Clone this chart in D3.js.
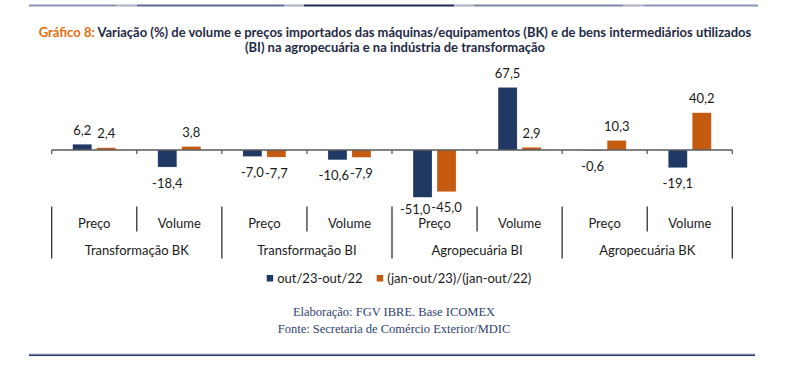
<!DOCTYPE html>
<html><head><meta charset="utf-8">
<script src="https://cdn.jsdelivr.net/npm/d3@7"></script>
<style>
html,body{margin:0;padding:0;background:#fff;}
svg{display:block;}
</style></head>
<body>
<svg id="chart" width="790" height="367"></svg>
<script>
const subCategories = ["Preço","Volume","Preço","Volume","Preço","Volume","Preço","Volume"];
const groups = ["Transformação BK","Transformação BI","Agropecuária BI","Agropecuária BK"];
const seriesNames = ["out/23-out/22","(jan-out/23)/(jan-out/22)"];
const seriesMonth = [6.2,-18.4,-7.0,-10.6,-51.0,67.5,-0.6,-19.1];
const seriesYTD = [2.4,3.8,-7.7,-7.9,-45.0,2.9,10.3,40.2];
const titleLead = "Gráfico 8:";
const titleLine1 = " Variação (%) de volume e preços importados das máquinas/equipamentos (BK) e de bens intermediários utilizados";
const titleLine2 = "(BI) na agropecuária e na indústria de transformação";
const footer1 = "Elaboração: FGV IBRE. Base ICOMEX";
const footer2 = "Fonte: Secretaria de Comércio Exterior/MDIC";

const NAVY = "#203864", ORANGE = "#c55a11";
const colors = [NAVY, ORANGE];
const FONT = "Lato, 'Open Sans', sans-serif";
const svg = d3.select("#chart");

// decorative top rule (gradient)
const defs = svg.append("defs");
const grad = defs.append("linearGradient").attr("id","topg").attr("gradientUnits","userSpaceOnUse")
  .attr("x1",29).attr("x2",758).attr("y1",0).attr("y2",0);
[[0,"#8a93b1"],[0.12,"#8a93b1"],[0.12,"#aab1c9"],[0.148,"#aab1c9"],[0.148,"#5d6a8f"],[0.35,"#5d6a8f"],[0.35,"#aab1c9"],[0.377,"#aab1c9"],[0.377,"#1f2d52"],[0.583,"#1f2d52"],[0.583,"#aab1c9"],[0.61,"#aab1c9"],[0.61,"#7d87a6"],[0.815,"#7d87a6"],[0.815,"#aab1c9"],[0.843,"#aab1c9"],[0.843,"#8a93b1"],[1,"#8a93b1"]]
 .forEach(([o,c])=>grad.append("stop").attr("offset",o).attr("stop-color",c));
svg.append("rect").attr("x",29).attr("y",4.5).attr("width",729).attr("height",2).attr("fill","url(#topg)");

// bottom rule
svg.append("rect").attr("x",29).attr("y",353.5).attr("width",726).attr("height",1).attr("fill","#aab3cc");
svg.append("rect").attr("x",29).attr("y",354.5).attr("width",726).attr("height",1.6).attr("fill","#2a3a66");

// title
const t1 = svg.append("text").attr("x",395).attr("y",37).attr("text-anchor","middle")
  .style("font-family",FONT).style("font-size","13px").style("font-weight","bold");
t1.append("tspan").attr("fill","#e46c0a").text(titleLead);
t1.append("tspan").attr("fill","#1f2a44").text(titleLine1);
svg.append("text").attr("x",395).attr("y",52).attr("text-anchor","middle")
  .style("font-family",FONT).style("font-size","13px").style("font-weight","bold")
  .attr("fill","#1f2a44").text(titleLine2);

// scales
const idx = d3.range(subCategories.length);
const x0 = d3.scaleBand().domain(idx).range([51.7,732.3]).paddingInner(0).paddingOuter(0);
const bw = x0.bandwidth();
const x1 = d3.scaleBand().domain([0,1]).range([bw/2-21.5,bw/2+21.5]).paddingInner(0.2083);
const y = d3.scaleLinear().domain([-60,80]).range([150+60*0.927,150-80*0.927]);

const data = idx.map(i=>[seriesMonth[i],seriesYTD[i]]);

const g = svg.append("g");
idx.forEach(i=>{
  data[i].forEach((v,s)=>{
    const xx = x0(i)+x1(s);
    g.append("rect").attr("x",xx).attr("width",x1.bandwidth())
      .attr("y",Math.min(y(v),y(0))).attr("height",Math.abs(y(v)-y(0)))
      .attr("fill",colors[s]).attr("stroke","#ffffff").attr("stroke-opacity",0.35).attr("stroke-width",0.6);
  });
});

// axis baseline and ticks
svg.append("line").attr("x1",x0(0)).attr("x2",x0(7)+bw).attr("y1",y(0)).attr("y2",y(0))
  .attr("stroke","#595959").attr("stroke-width",1.3);
d3.range(9).forEach(k=>{
  const xx = k<8 ? x0(k) : x0(7)+bw;
  svg.append("line").attr("x1",xx).attr("x2",xx).attr("y1",y(0)).attr("y2",y(0)+4)
    .attr("stroke","#595959").attr("stroke-width",1.3);
});

// value labels
const fmt = v => d3.format(".1f")(v).replace(".",",").replace("−","-");
idx.forEach(i=>{
  const labs = data[i].map((v,s)=>{
    const cx = x0(i)+x1(s)+x1.bandwidth()/2;
    let cy = v>=0 ? y(v)-14 : Math.min(y(v)+16, 209.3);
    return svg.append("text").attr("x",cx).attr("y",cy).attr("dy","0.35em").attr("text-anchor","middle")
      .style("font-family",FONT).style("font-size","13px").attr("fill","#1a1a1a").text(fmt(v));
  });
  // avoid horizontal overlap when both labels sit on the same side
  if (data[i][0]<0 && data[i][1]<0) {
    const w0 = labs[0].node().getComputedTextLength(), w1 = labs[1].node().getComputedTextLength();
    const c0 = +labs[0].attr("x"), c1 = +labs[1].attr("x");
    const overlap = (c0+w0/2) - (c1-w1/2) + 1;
    if (overlap>0) labs[0].attr("x", c0-overlap);
  }
});

// category labels and separators
idx.forEach(i=>{
  svg.append("text").attr("x",x0(i)+bw/2).attr("y",223.5).attr("dy","0.35em").attr("text-anchor","middle")
    .style("font-family",FONT).style("font-size","13px").attr("fill","#1a1a1a").text(subCategories[i]);
});
groups.forEach((gname,j)=>{
  svg.append("text").attr("x",x0(2*j)+bw).attr("y",250).attr("dy","0.35em").attr("text-anchor","middle")
    .style("font-family",FONT).style("font-size","13px").attr("fill","#1a1a1a").text(gname);
});
d3.range(9).forEach(k=>{
  const xx = k<8 ? x0(k) : x0(7)+bw;
  const long = k%2===0;
  svg.append("line").attr("x1",xx).attr("x2",xx).attr("y1",206.5).attr("y2",long?258.5:231.5)
    .attr("stroke","#333").attr("stroke-width",1.3);
});

// legend
const leg = [{x:266.7},{x:376.7}];
seriesNames.forEach((n,s)=>{
  svg.append("rect").attr("x",leg[s].x).attr("y",275).attr("width",6.5).attr("height",6.5).attr("fill",colors[s]);
  svg.append("text").attr("x",leg[s].x+10.5).attr("y",278.3).attr("dy","0.35em")
    .style("font-family",FONT).style("font-size","13px").attr("fill","#1a1a1a").text(n);
});

// footer
svg.append("text").attr("x",394).attr("y",311.7).attr("dy","0.35em").attr("text-anchor","middle")
  .style("font-family","'Liberation Serif', serif").style("font-size","12.5px").attr("fill","#2e3f6e").text(footer1);
svg.append("text").attr("x",394).attr("y",328.3).attr("dy","0.35em").attr("text-anchor","middle")
  .style("font-family","'Liberation Serif', serif").style("font-size","12.5px").attr("fill","#2e3f6e").text(footer2);
</script>
</body></html>
